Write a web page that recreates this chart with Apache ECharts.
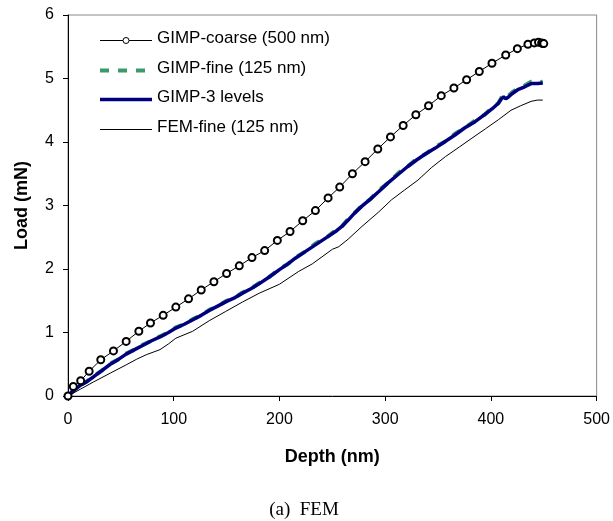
<!DOCTYPE html>
<html><head><meta charset="utf-8">
<script src="https://cdn.jsdelivr.net/npm/echarts@6/dist/echarts.min.js"></script>
<style>html,body{margin:0;padding:0;background:#fff}#c{width:613px;height:521px}</style>
</head><body><div id="c"></div>
<script>
// Data
var coarseDepth = [0,5,12,20,31,43,55,67,78,90,102,114,126,138,150,162,174,186,198,210,222,234,246,257,269,281,293,305,317,329,341,353,365,377,389,401,414,425,435,441,445,448,449,450];
var coarseLoad  = [0,0.15,0.24,0.39,0.57,0.71,0.86,1.02,1.15,1.27,1.40,1.53,1.67,1.80,1.93,2.05,2.18,2.29,2.45,2.59,2.76,2.92,3.12,3.29,3.50,3.69,3.89,4.08,4.26,4.43,4.57,4.73,4.85,4.98,5.11,5.24,5.37,5.47,5.54,5.56,5.57,5.56,5.55,5.55];

var levelsDepth = [0,5,11,18,24,32,40,48,55,63,71,79,87,95,102,110,118,126,134,142,150,158,165,173,181,190,200,208,215,224,234,244,253,259,265,271,278,286,294,303,313,321,330,338,347,356,366,375,385,394,401,407,410,412,414,416,420,426,432,438,444,449];
var levelsLoad  = [0,0.08,0.16,0.23,0.30,0.40,0.50,0.58,0.66,0.73,0.80,0.87,0.93,1.00,1.07,1.13,1.20,1.27,1.35,1.42,1.49,1.55,1.62,1.69,1.77,1.87,1.99,2.08,2.17,2.27,2.38,2.49,2.59,2.67,2.77,2.88,2.99,3.10,3.22,3.36,3.50,3.61,3.72,3.81,3.90,4.00,4.11,4.22,4.32,4.43,4.52,4.61,4.68,4.71,4.68,4.70,4.76,4.83,4.87,4.92,4.92,4.93];

var fineDepth = levelsDepth;
var fineLoad  = [0,0.08,0.17,0.23,0.31,0.40,0.51,0.58,0.67,0.73,0.81,0.87,0.94,1.00,1.08,1.13,1.21,1.27,1.36,1.42,1.50,1.55,1.63,1.69,1.78,1.87,2.00,2.08,2.18,2.27,2.40,2.49,2.61,2.67,2.79,2.88,3.00,3.10,3.24,3.36,3.52,3.61,3.74,3.81,3.92,4.00,4.13,4.22,4.34,4.43,4.54,4.61,4.70,4.72,4.69,4.72,4.78,4.85,4.89,4.95,4.94,4.95];

var femDepth = [0,12,24,40,55,65,74,87,95,102,118,134,149,165,181,200,218,231,250,256,265,278,294,306,318,331,344,357,370,382,395,407,419,428,438,444,449];
var femLoad  = [0,0.11,0.22,0.36,0.49,0.58,0.65,0.73,0.82,0.91,1.02,1.19,1.33,1.48,1.62,1.76,1.96,2.08,2.31,2.35,2.47,2.67,2.90,3.09,3.24,3.40,3.60,3.77,3.92,4.06,4.21,4.35,4.50,4.57,4.64,4.66,4.66];

var xTicks = [0,100,200,300,400,500];
var yTicks = [0,1,2,3,4,5,6];
var seriesNames = ['GIMP-coarse (500 nm)','GIMP-fine (125 nm)','GIMP-3 levels','FEM-fine (125 nm)'];

function pairs(xs, ys){ return xs.map(function(x,i){ return [x, ys[i]]; }); }

var font = 'Liberation Sans, Arial, sans-serif';
var styles = [
  {stroke:'#000', lineWidth:1, lineDash:null, marker:true},
  {stroke:'#3a9a6a', lineWidth:4, lineDash:[9,9], marker:false},
  {stroke:'#00007f', lineWidth:3.5, lineDash:null, marker:false},
  {stroke:'#000', lineWidth:1, lineDash:null, marker:false}
];

// Legend built as graphic elements (layout only)
var legendX = 100, legendY = 40, rowGap = 29.7, sampleLen = 52;
var legendGraphics = [];
seriesNames.forEach(function(name, i){
  var y = Math.round(legendY + i * rowGap), s = styles[i];
  legendGraphics.push({type:'line', shape:{x1:legendX, y1:y + 0.5, x2:legendX + sampleLen, y2:y + 0.5},
    style:{stroke:s.stroke, lineWidth:s.lineWidth, lineDash:s.lineDash}, z:10});
  if (s.marker) legendGraphics.push({type:'circle', shape:{cx:legendX + sampleLen/2, cy:y + 0.5, r:3},
    style:{fill:'#fff', stroke:'#000', lineWidth:1}, z:11});
  legendGraphics.push({type:'text', x:legendX + sampleLen + 5, y:y - 10,
    style:{text:name, fill:'#000', font:'normal 17px ' + font, verticalAlign:'top'}, z:10});
});

var chart = echarts.init(document.getElementById('c'), null, {renderer:'canvas'});
chart.setOption({
  animation:false,
  backgroundColor:'#fff',
  title:{
    text:'(a)  FEM', left:299, top:496, textAlign:'center',
    textStyle:{fontFamily:'Liberation Serif, Times New Roman, serif', fontWeight:'normal', fontSize:19, color:'#000'}
  },
  grid:{left:68, top:15, width:531, height:381, show:true, borderColor:'#888', borderWidth:1, backgroundColor:'transparent'},
  graphic:legendGraphics,
  xAxis:{
    type:'value', min:xTicks[0], max:xTicks[xTicks.length-1], interval:100,
    name:'Depth (nm)', nameLocation:'middle', nameGap:52,
    nameTextStyle:{fontFamily:font, fontSize:18, fontWeight:'bold', color:'#000'},
    axisLine:{show:true, lineStyle:{color:'#000', width:1}},
    axisTick:{show:true, inside:false, length:5, lineStyle:{color:'#000'}},
    axisLabel:{fontFamily:font, fontSize:16, color:'#000', margin:16},
    splitLine:{show:false}
  },
  yAxis:{
    type:'value', min:yTicks[0], max:yTicks[yTicks.length-1], interval:1,
    name:'Load (mN)', nameLocation:'middle', nameGap:37,
    nameTextStyle:{fontFamily:font, fontSize:18, fontWeight:'bold', color:'#000'},
    axisLine:{show:true, lineStyle:{color:'#000', width:1}},
    axisTick:{show:true, inside:false, length:5, lineStyle:{color:'#000'}},
    axisLabel:{fontFamily:font, fontSize:16, color:'#000', margin:14},
    splitLine:{show:false}
  },
  series:[
    {name:seriesNames[0], type:'line', data:pairs(coarseDepth, coarseLoad),
     symbol:'emptyCircle', symbolSize:7, showSymbol:true,
     lineStyle:{color:'#000', width:1}, itemStyle:{color:'#000', borderColor:'#000', borderWidth:1}, z:3},
    {name:seriesNames[1], type:'line', data:pairs(fineDepth, fineLoad),
     symbol:'none', lineStyle:{color:'#3a9a6a', width:4, type:[9,9]}, itemStyle:{color:'#3a9a6a'}, z:2},
    {name:seriesNames[2], type:'line', data:pairs(levelsDepth, levelsLoad),
     symbol:'none', lineStyle:{color:'#00007f', width:3.5}, itemStyle:{color:'#00007f'}, z:3},
    {name:seriesNames[3], type:'line', data:pairs(femDepth, femLoad),
     symbol:'none', lineStyle:{color:'#000', width:1}, itemStyle:{color:'#000'}, z:3}
  ]
});
</script></body></html>
